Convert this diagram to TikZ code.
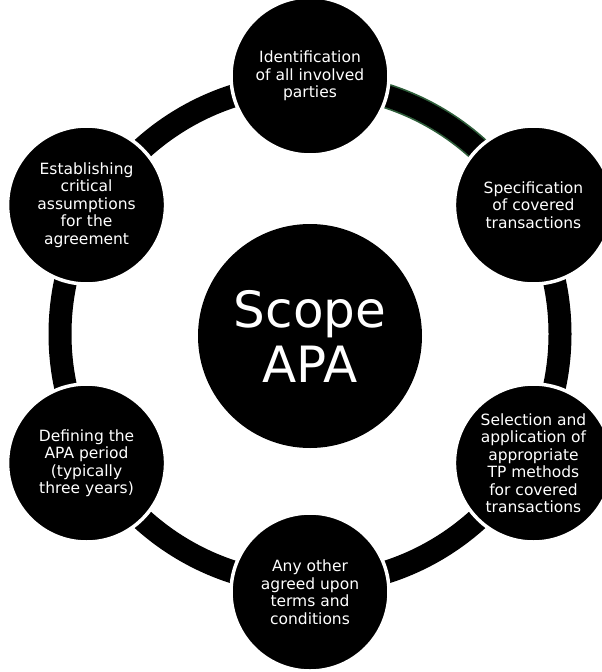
\documentclass[tikz,border=0pt]{standalone}
\usepackage{fontspec}
\setmainfont{DejaVu Sans}
\definecolor{edgegreen}{RGB}{46,94,58}
\begin{document}
\begin{tikzpicture}[x=1pt,y=-1pt,
  sat/.style={circle, fill=black, draw=white, line width=3.5pt, minimum size=158pt, inner sep=0pt, text=white, align=center, font=\fontsize{15.5}{17.5}\selectfont},
  hub/.style={circle, fill=black, minimum size=224pt, inner sep=0pt, text=white, align=center, font=\fontsize{50}{55}\selectfont},
  ringline/.style={line width=23pt, draw=black}]
\useasboundingbox (0,0) rectangle (602,672);
\clip (0,0) rectangle (602,672);
\coordinate (c) at (310,334);
\draw[ringline] (c) circle[radius=250];
\draw[line width=25pt, draw=edgegreen] ([shift={(-30:250)}]c) arc[start angle=-30, end angle=-90, radius=250];
\draw[line width=21.6pt, draw=black] ([shift={(-30:250)}]c) arc[start angle=-30, end angle=-90, radius=250];
\node[hub] (hub) at ([shift={(0,2)}]c) {Scope\\APA};
\node[sat] (s1) at ([shift={(-90:258)}]c) {Identification\\of all involved\\parties};
\node[sat] (s2) at ([shift={(-30:258)}]c) {Specification\\of covered\\transactions};
\node[sat] (s3) at ([shift={(30:258)}]c) {Selection and\\application of\\appropriate\\TP methods\\for covered\\transactions};
\node[sat] (s4) at ([shift={(90:258)}]c) {Any other\\agreed upon\\terms and\\conditions};
\node[sat] (s5) at ([shift={(150:258)}]c) {Defining the\\APA period\\(typically\\three years)};
\node[sat] (s6) at ([shift={(-150:258)}]c) {Establishing\\critical\\assumptions\\for the\\agreement};
\end{tikzpicture}
\end{document}
